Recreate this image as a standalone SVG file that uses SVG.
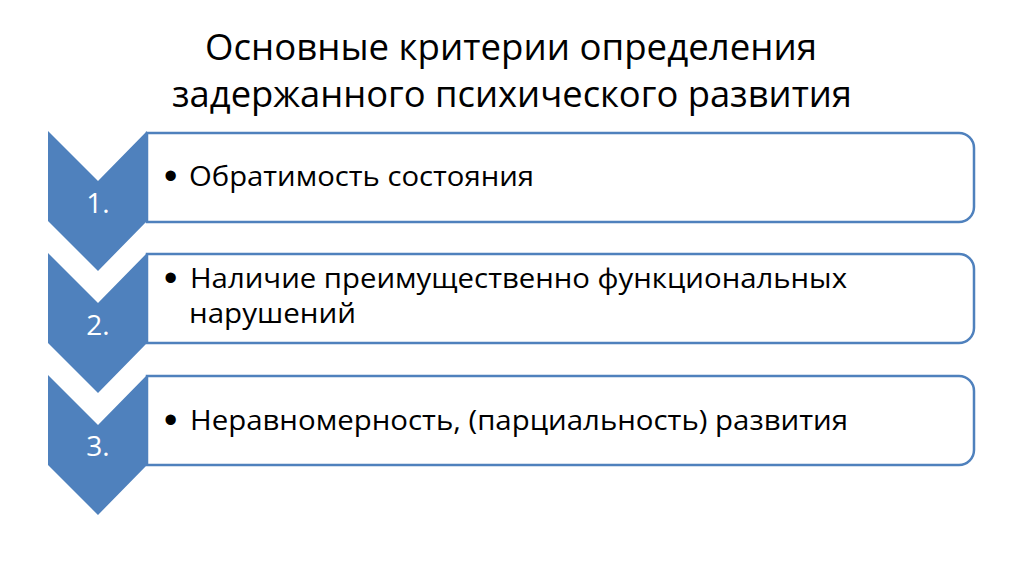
<svg xmlns="http://www.w3.org/2000/svg" width="1024" height="574" viewBox="0 0 1024 574">
<style>
.title{font-family:"Open Sans","Liberation Sans",sans-serif;font-size:36px;fill:#000}
.item{font-family:"Open Sans","Liberation Sans",sans-serif;font-size:28px;fill:#000}
.bul{font-family:"Liberation Sans",sans-serif;font-size:38px;fill:#000}
.num{font-family:"Open Sans","Liberation Sans",sans-serif;font-size:28px;fill:#fff;text-anchor:middle}
.box{fill:#fff;stroke:#4F81BD;stroke-width:2.5}
.chev{fill:#4F81BD}
</style>
<rect width="1024" height="574" fill="#fff"/>
<g id="title">
<text class="title" x="205" y="60" textLength="612" lengthAdjust="spacingAndGlyphs">Основные критерии определения</text>
<text class="title" x="172" y="107" textLength="680" lengthAdjust="spacingAndGlyphs">задержанного психического развития</text>
</g>
<g id="connectors"></g>
<g id="node1">
<path class="box" d="M147,133 H959 A15,15 0 0 1 974,148 V207 A15,15 0 0 1 959,222 H147 Z"/>
<path class="chev" d="M48,131 L98,181 L147,131 L147,221 L98,271 L48,221 Z"/>
<text class="num" x="98" y="213">1.</text>
<text class="bul" x="164" y="189">•</text>
<text class="item" x="189" y="186" textLength="345" lengthAdjust="spacingAndGlyphs">Обратимость состояния</text>
</g>
<g id="node2">
<path class="box" d="M147,254 H959 A15,15 0 0 1 974,269 V328 A15,15 0 0 1 959,343 H147 Z"/>
<path class="chev" d="M48,253 L98,303 L147,253 L147,343 L98,393 L48,343 Z"/>
<text class="num" x="98" y="335">2.</text>
<text class="bul" x="164" y="291">•</text>
<text class="item" x="190" y="288" textLength="657" lengthAdjust="spacingAndGlyphs">Наличие преимущественно функциональных</text>
<text class="item" x="189" y="323" textLength="167" lengthAdjust="spacingAndGlyphs">нарушений</text>
</g>
<g id="node3">
<path class="box" d="M147,376 H959 A15,15 0 0 1 974,391 V450 A15,15 0 0 1 959,465 H147 Z"/>
<path class="chev" d="M48,375 L98,425 L147,375 L147,465 L98,515 L48,465 Z"/>
<text class="num" x="98" y="456">3.</text>
<text class="bul" x="164" y="433">•</text>
<text class="item" x="190" y="430" textLength="658" lengthAdjust="spacingAndGlyphs">Неравномерность, (парциальность) развития</text>
</g>
</svg>
